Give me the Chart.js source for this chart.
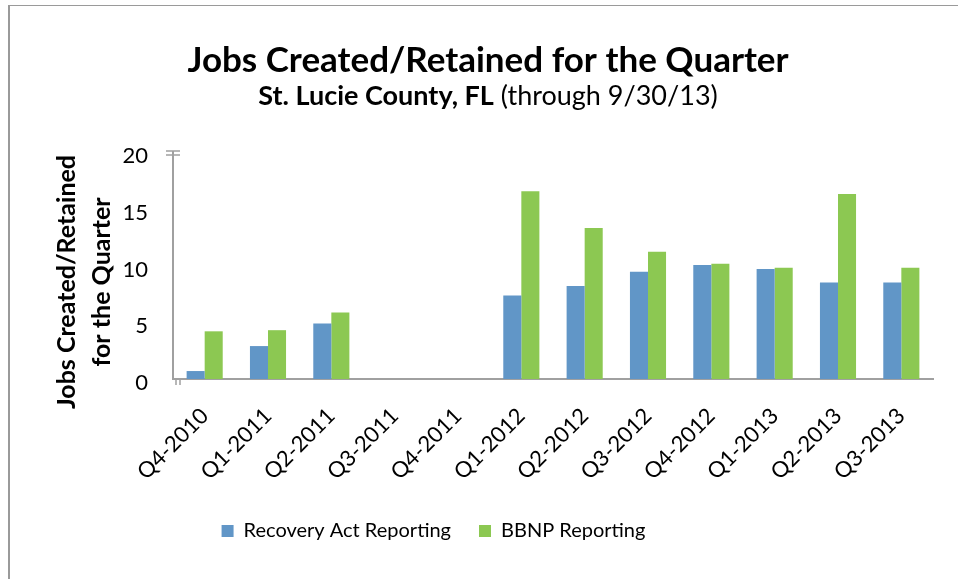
<!DOCTYPE html>
<html>
<head>
<meta charset="utf-8">
<script src="https://cdn.jsdelivr.net/npm/chart.js@4.4.1/dist/chart.umd.min.js"></script>
<style>
  html, body { margin: 0; padding: 0; background: #fff; }
  #wrap { width: 958px; height: 579px; position: relative; }
</style>
</head>
<body>
<div id="wrap"><canvas id="jobs-chart" width="958" height="579"></canvas></div>
<script>
const quarters = ["Q4-2010", "Q1-2011", "Q2-2011", "Q3-2011", "Q4-2011", "Q1-2012",
                  "Q2-2012", "Q3-2012", "Q4-2012", "Q1-2013", "Q2-2013", "Q3-2013"]
const recoveryAct = [0.7, 2.9, 4.9, null, null, 7.35, 8.2, 9.45, 10.05, 9.7, 8.5, 8.5]
const bbnp        = [4.2, 4.3, 5.85, null, null, 16.55, 13.3, 11.2, 10.15, 9.8, 16.3, 9.8]
const yTicks = [0, 5, 10, 15, 20]
const yTitle = ["Jobs Created/Retained", "for the Quarter"]

const fontFam = "Lato, 'Open Sans', sans-serif"
const axisGray = "#A0A0A0"

// titles, frame, y axis title and the axis break marks
const decor = {
    id: 'decor',
    afterLayout(chart) {
        // legend sits left of centre and a bit higher in the original
        const lg = chart.legend
        lg.left -= 58
        lg.right -= 58
        lg.top -= 16
        lg.bottom -= 16
    },
    beforeDraw(chart) {
        const c = chart.ctx
        c.save()
        c.fillStyle = '#fff'
        c.fillRect(0, 0, chart.width, chart.height)
        c.fillStyle = '#9a9a9a'
        c.fillRect(8, 5, 2, chart.height)
        c.fillRect(8, 5, chart.width, 1)
        c.restore()
    },
    afterDraw(chart) {
        const c = chart.ctx
        const cx = 488
        c.save()
        c.fillStyle = '#000'
        c.textAlign = 'center'
        c.textBaseline = 'alphabetic'
        c.font = "bold 35px " + fontFam
        c.fillText("Jobs Created/Retained for the Quarter", cx, 72)
        let bold = "St. Lucie County, FL"
        let reg = " (through 9/30/13)"
        c.font = "bold 27px " + fontFam
        let wb = c.measureText(bold).width
        c.font = "27px " + fontFam
        let wr = c.measureText(reg).width
        let x0 = cx - (wb + wr) / 2
        c.textAlign = 'left'
        c.font = "bold 27px " + fontFam
        c.fillText(bold, x0, 105)
        c.font = "27px " + fontFam
        c.fillText(reg, x0 + wb, 105)

        // y axis title, two lines
        c.save()
        c.translate(0, 282)
        c.rotate(-Math.PI / 2)
        c.textAlign = 'center'
        c.textBaseline = 'middle'
        c.font = "bold 25px " + fontFam
        c.fillText(yTitle[0], 0, 67)
        c.fillText(yTitle[1], 0, 102)
        c.restore()

        // break marks at top of y axis and stub at the origin
        const y = chart.scales.y
        const ax = chart.chartArea.left
        const top = y.getPixelForValue(20)
        c.strokeStyle = axisGray
        c.lineWidth = 1.5
        c.beginPath()
        c.moveTo(ax - 7, top - 1); c.lineTo(ax + 7, top - 1)
        c.moveTo(ax - 7, top + 3); c.lineTo(ax + 7, top + 3)
        const bot = y.getPixelForValue(0)
        c.moveTo(ax + 7, bot); c.lineTo(ax + 7, bot + 6)
        c.moveTo(ax + 3, bot); c.lineTo(ax + 3, bot + 6)
        c.stroke()
        c.restore()
    }
}

const config = {
    type: 'bar',
    data: {
        labels: quarters,
        datasets: [{
            label: "Recovery Act Reporting",
            backgroundColor: "#6196C7",
            data: recoveryAct
        }, {
            label: "BBNP Reporting",
            backgroundColor: "#8CC852",
            data: bbnp
        }]
    },
    options: {
        responsive: false,
        animation: false,
        layout: { padding: { top: 152, left: 50, right: 25, bottom: 12 } },
        datasets: { bar: { categoryPercentage: 0.57, barPercentage: 1 } },
        plugins: {
            legend: {
                position: 'bottom',
                labels: {
                    boxWidth: 12, boxHeight: 12, padding: 28,
                    color: '#000',
                    font: { family: fontFam, size: 20 }
                }
            },
            tooltip: { enabled: false }
        },
        scales: {
            x: {
                grid: { display: false, drawTicks: false },
                border: { color: axisGray, width: 2 },
                ticks: {
                    color: '#000', minRotation: 45, maxRotation: 45, padding: 24,
                    font: { family: fontFam, size: 22 }
                }
            },
            y: {
                min: 0, max: 20,
                afterBuildTicks: (ax) => { ax.ticks = yTicks.map(v => ({ value: v })) },
                afterFit: (ax) => { ax.width = 123 },
                grid: { display: false, drawTicks: false },
                border: { color: axisGray, width: 2 },
                ticks: {
                    color: '#000', padding: 25, labelOffset: 4,
                    font: { family: fontFam, size: 22 }
                }
            }
        }
    },
    plugins: [decor]
}
new Chart(document.getElementById("jobs-chart"), config)
</script>
</body>
</html>
